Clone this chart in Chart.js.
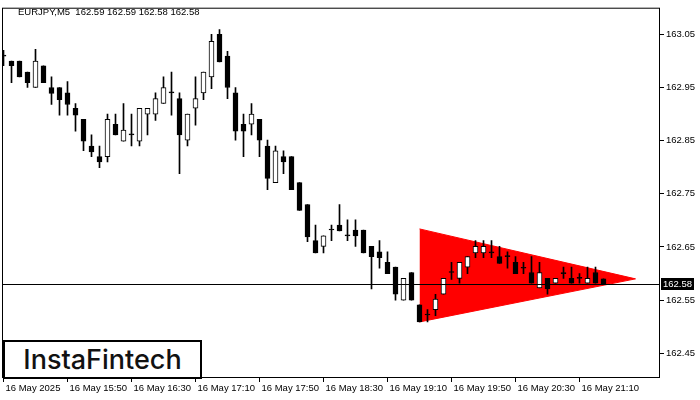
<!DOCTYPE html>
<html>
<head>
<meta charset="utf-8">
<title>EURJPY M5</title>
<script src="https://cdn.jsdelivr.net/npm/chart.js@4.4.1/dist/chart.umd.min.js"></script>
<style>
  body { margin: 0; background: #fff; }
  #wrap { position: relative; width: 700px; height: 400px; }
  #logo {
    position: absolute; left: 3px; top: 340px; width: 195px; height: 35px;
    border: 2px solid #000; background: #fff; color: #111;
    font-family: Inter, "Noto Sans", sans-serif; font-weight: 500; font-size: 27px;
    line-height: 35px; text-align: center;
  }
</style>
</head>
<body>
<div id="wrap">
  <canvas id="chart" width="700" height="400"></canvas>
  <div id="logo">InstaFintech</div>
</div>
<script>
// EURJPY M5 candles, 16 May 2025 from 15:10
var symbol = 'EURJPY,M5';
var xLabels = ['16 May 2025', '16 May 15:50', '16 May 16:30', '16 May 17:10', '16 May 17:50',
  '16 May 18:30', '16 May 19:10', '16 May 19:50', '16 May 20:30', '16 May 21:10'];
var yTicks = [162.45, 162.55, 162.65, 162.75, 162.85, 162.95, 163.05];

var open = [
  163.009, 163.000, 163.000, 162.979, 162.950, 162.991, 162.950, 162.950, 162.940, 162.911,
  162.890, 162.840, 162.820, 162.820, 162.881, 162.849, 162.861, 162.849, 162.900, 162.900,
  162.920, 162.940, 162.929, 162.851, 162.911, 162.940, 162.970, 163.050, 163.009, 162.940,
  162.881, 162.881, 162.890, 162.840, 162.771, 162.820, 162.820, 162.771, 162.730, 162.662,
  162.651, 162.682, 162.691, 162.671, 162.682, 162.682, 162.651, 162.641, 162.621, 162.612,
  162.550, 162.602, 162.541, 162.522, 162.532, 162.561, 162.602, 162.591, 162.612, 162.639,
  162.639, 162.639, 162.632, 162.632, 162.621, 162.610, 162.602, 162.573, 162.591, 162.582,
  162.600, 162.591, 162.591, 162.582, 162.602, 162.590
];
var high = [
  163.020, 163.000, 163.000, 162.979, 163.022, 162.991, 162.970, 162.950, 162.961, 162.920,
  162.890, 162.861, 162.840, 162.900, 162.900, 162.920, 162.900, 162.911, 162.911, 162.940,
  162.970, 162.979, 162.940, 162.900, 162.970, 162.979, 163.050, 163.059, 163.018, 162.950,
  162.900, 162.920, 162.890, 162.851, 162.840, 162.831, 162.820, 162.771, 162.730, 162.691,
  162.671, 162.691, 162.730, 162.701, 162.701, 162.682, 162.651, 162.662, 162.641, 162.612,
  162.591, 162.602, 162.541, 162.532, 162.561, 162.591, 162.621, 162.621, 162.632, 162.662,
  162.662, 162.662, 162.651, 162.641, 162.632, 162.621, 162.632, 162.621, 162.591, 162.591,
  162.612, 162.612, 162.600, 162.612, 162.612, 162.590
];
var low = [
  162.991, 162.959, 162.970, 162.950, 162.950, 162.959, 162.918, 162.898, 162.898, 162.868,
  162.831, 162.820, 162.799, 162.810, 162.861, 162.849, 162.840, 162.840, 162.861, 162.888,
  162.920, 162.898, 162.788, 162.840, 162.879, 162.927, 162.948, 162.998, 162.929, 162.851,
  162.820, 162.861, 162.820, 162.758, 162.771, 162.788, 162.758, 162.719, 162.660, 162.639,
  162.639, 162.662, 162.680, 162.662, 162.651, 162.639, 162.571, 162.610, 162.600, 162.550,
  162.550, 162.550, 162.509, 162.509, 162.521, 162.561, 162.589, 162.582, 162.600, 162.630,
  162.630, 162.630, 162.619, 162.610, 162.600, 162.600, 162.582, 162.573, 162.561, 162.582,
  162.591, 162.582, 162.582, 162.582, 162.582, 162.580
];
var close = [
  163.009, 162.991, 162.970, 162.959, 163.000, 162.959, 162.939, 162.927, 162.918, 162.898,
  162.849, 162.829, 162.810, 162.890, 162.861, 162.870, 162.861, 162.911, 162.911, 162.929,
  162.950, 162.940, 162.861, 162.900, 162.929, 162.979, 163.037, 162.998, 162.950, 162.868,
  162.868, 162.900, 162.851, 162.779, 162.831, 162.810, 162.758, 162.719, 162.669, 162.639,
  162.671, 162.682, 162.680, 162.671, 162.671, 162.639, 162.632, 162.630, 162.600, 162.561,
  162.591, 162.550, 162.509, 162.522, 162.552, 162.591, 162.602, 162.621, 162.632, 162.651,
  162.651, 162.639, 162.619, 162.632, 162.600, 162.610, 162.582, 162.602, 162.571, 162.591,
  162.600, 162.582, 162.591, 162.591, 162.582, 162.580
];

// bearish pennant (bar index, price)
var patternX = [52, 79];
var patternUpper = [162.684, 162.590];
var patternLower = [162.509, 162.590];
var lastPrice = 162.58;

var font = { family: 'Liberation Sans', size: 9.5 };

var framePlugin = {
  id: 'frame',
  afterDraw: function (chart) {
    var ctx = chart.ctx, a = chart.chartArea;
    var y = Math.round(chart.scales.y.getPixelForValue(lastPrice)) + 0.5;
    ctx.save();
    ctx.strokeStyle = '#000';
    ctx.lineWidth = 1;
    ctx.strokeRect(a.left + 0.5, a.top + 0.5, a.right - a.left - 1, a.bottom - a.top - 1);
    // current price line
    ctx.beginPath();
    ctx.moveTo(a.left, y);
    ctx.lineTo(a.right, y);
    ctx.stroke();
    ctx.fillStyle = '#000';
    ctx.fillRect(a.right + 1, y - 6.5, 33, 12);
    ctx.font = '9.5px "Liberation Sans"';
    ctx.textBaseline = 'middle';
    ctx.fillStyle = '#fff';
    ctx.fillText(lastPrice.toFixed(2), a.right + 3, y);
    // header
    var n = open.length - 1;
    ctx.fillStyle = '#000';
    ctx.textBaseline = 'alphabetic';
    ctx.fillText(symbol + '  ' + [open[n], high[n], low[n], close[n]].map(function (v) { return v.toFixed(2); }).join(' '), 18, 15);
    ctx.restore();
  }
};

var ctx = document.getElementById('chart').getContext('2d');
var chart = new Chart(ctx, {
  type: 'bar',
  data: {
    datasets: [{
      label: 'body',
      data: open.map(function (o, i) { return { x: i, y: [o, close[i]] }; }),
      backgroundColor: open.map(function (o, i) { return close[i] > o ? '#fff' : '#000'; }),
      borderColor: '#000',
      borderWidth: 1,
      borderSkipped: false,
      barThickness: 5,
      minBarLength: 1,
      grouped: false,
      order: 1
    }, {
      label: 'wick',
      data: low.map(function (l, i) { return { x: i, y: [l, high[i]] }; }),
      backgroundColor: '#000',
      borderWidth: 0,
      barThickness: 1,
      minBarLength: 1,
      grouped: false,
      order: 2
    }, {
      type: 'line',
      label: 'pattern top',
      data: patternX.map(function (x, k) { return { x: x, y: patternUpper[k] }; }),
      borderColor: '#ff0000',
      borderWidth: 1,
      backgroundColor: '#ff0000',
      pointRadius: 0,
      fill: '+1',
      order: 3
    }, {
      type: 'line',
      label: 'pattern bottom',
      data: patternX.map(function (x, k) { return { x: x, y: patternLower[k] }; }),
      borderColor: '#ff0000',
      borderWidth: 1,
      pointRadius: 0,
      fill: false,
      order: 4
    }]
  },
  options: {
    responsive: false,
    animation: false,
    layout: { padding: { left: 2, top: 3, right: 0, bottom: 0 } },
    plugins: { legend: { display: false }, tooltip: { enabled: false } },
    scales: {
      x: {
        type: 'linear',
        min: -0.1875,
        max: 82.0625,
        offset: false,
        afterBuildTicks: function (s) { s.ticks = xLabels.map(function (l, k) { return { value: k * 8 }; }); },
        afterFit: function (s) { s.height = 22; },
        ticks: {
          callback: function (v, i) { return xLabels[i]; },
          autoSkip: false, maxRotation: 0, minRotation: 0,
          align: 'start', labelOffset: 2, padding: 1,
          color: '#000', font: font
        },
        grid: { drawOnChartArea: false, drawTicks: true, tickLength: 4, color: '#000', offset: false },
        border: { display: false }
      },
      y: {
        position: 'right',
        min: 162.4035,
        max: 163.1002,
        afterBuildTicks: function (s) { s.ticks = yTicks.map(function (v) { return { value: v }; }); },
        afterFit: function (s) { s.width = 40; },
        ticks: {
          callback: function (v) { return v.toFixed(2); },
          padding: 2, color: '#000', font: font
        },
        grid: { drawOnChartArea: false, drawTicks: true, tickLength: 4, color: '#000' },
        border: { display: false }
      }
    }
  },
  plugins: [framePlugin]
});
</script>
</body>
</html>
